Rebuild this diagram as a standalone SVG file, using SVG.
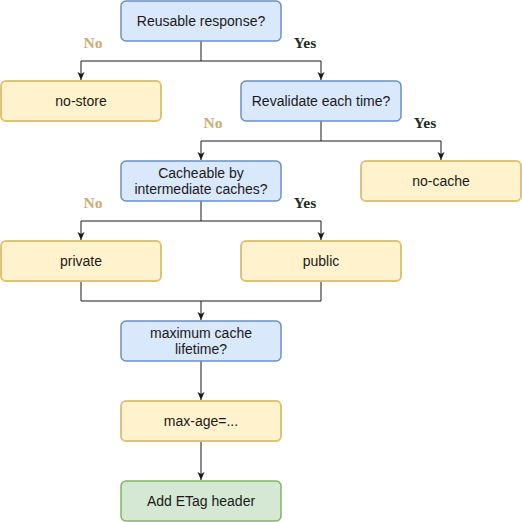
<svg xmlns="http://www.w3.org/2000/svg" width="522" height="522" viewBox="0 0 522 522">
<style>
.n rect{stroke-width:1.5}
.blue rect{fill:#dae8fc;stroke:#6c8ebf}
.yellow rect{fill:#fff2cc;stroke:#dcc27a;stroke-width:2}
.green rect{fill:#d5e8d4;stroke:#82b366}
.n text{font-family:"Liberation Sans",Arial,sans-serif;font-size:14px;fill:#1a1a1a;text-anchor:middle}
.lbl{font-family:"Liberation Serif","Times New Roman",serif;font-size:15.5px;font-weight:bold;text-anchor:middle}
.no{fill:#c9ad72}
.yes{fill:#1c2e1c}
#edges path{fill:none;stroke:#1a1a1a;stroke-width:1}
</style>
<defs>
<marker id="arr" markerUnits="userSpaceOnUse" markerWidth="10" markerHeight="10" viewBox="0 0 10 10" refX="9" refY="5" orient="auto">
<path d="M1,1.5 L9,5 L1,8.5 L3,5 z" fill="#1a1a1a"/>
</marker>
</defs>
<rect width="522" height="522" fill="#ffffff"/>
<g id="edges">
<path d="M201,41 V61 H81 V80" marker-end="url(#arr)"/>
<path d="M201,61 H321 V80" marker-end="url(#arr)"/>
<path d="M321,121 V141 H201 V160" marker-end="url(#arr)"/>
<path d="M321,141 H441 V160" marker-end="url(#arr)"/>
<path d="M201,201 V221 H81 V240" marker-end="url(#arr)"/>
<path d="M201,221 H321 V240" marker-end="url(#arr)"/>
<path d="M81,281 V301 H321 V281"/>
<path d="M201,301 V320" marker-end="url(#arr)"/>
<path d="M201,361 V400" marker-end="url(#arr)"/>
<path d="M201,441 V480" marker-end="url(#arr)"/>
</g>
<g id="labels">
<text class="lbl no" x="93" y="48">No</text>
<text class="lbl yes" x="305" y="48">Yes</text>
<text class="lbl no" x="213" y="128">No</text>
<text class="lbl yes" x="425" y="128">Yes</text>
<text class="lbl no" x="93" y="208">No</text>
<text class="lbl yes" x="305" y="208">Yes</text>
</g>
<g id="reusable" class="n blue"><rect x="121" y="1" width="160" height="40" rx="5"/><text x="201" y="26">Reusable response?</text></g>
<g id="no-store" class="n yellow"><rect x="1" y="81" width="160" height="40" rx="5"/><text x="81" y="106">no-store</text></g>
<g id="revalidate" class="n blue"><rect x="241" y="81" width="160" height="40" rx="5"/><text x="321" y="106">Revalidate each time?</text></g>
<g id="cacheable" class="n blue"><rect x="121" y="161" width="160" height="40" rx="5"/><text x="201" y="178">Cacheable by</text><text x="201" y="194">intermediate caches?</text></g>
<g id="no-cache" class="n yellow"><rect x="361" y="161" width="160" height="40" rx="5"/><text x="441" y="186">no-cache</text></g>
<g id="private" class="n yellow"><rect x="1" y="241" width="160" height="40" rx="5"/><text x="81" y="266">private</text></g>
<g id="public" class="n yellow"><rect x="241" y="241" width="160" height="40" rx="5"/><text x="321" y="266">public</text></g>
<g id="max-lifetime" class="n blue"><rect x="121" y="321" width="160" height="40" rx="5"/><text x="201" y="338">maximum cache</text><text x="201" y="354">lifetime?</text></g>
<g id="max-age" class="n yellow"><rect x="121" y="401" width="160" height="40" rx="5"/><text x="201" y="426">max-age=...</text></g>
<g id="etag" class="n green"><rect x="121" y="481" width="160" height="40" rx="5"/><text x="201" y="506">Add ETag header</text></g>
</svg>
